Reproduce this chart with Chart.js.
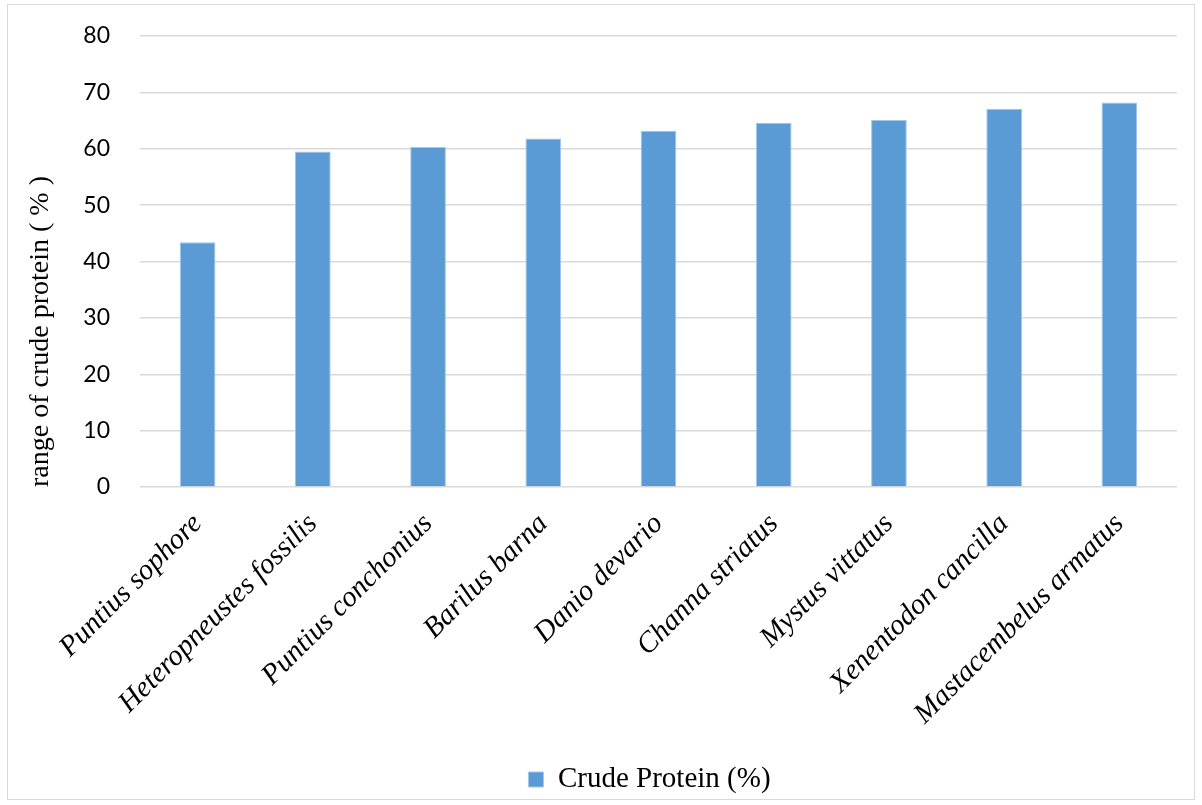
<!DOCTYPE html>
<html>
<head>
<meta charset="utf-8">
<title>Crude protein by species</title>
<script src="https://cdn.jsdelivr.net/npm/chart.js@4"></script>
<style>
  html, body { margin: 0; padding: 0; background: #fff; }
  #wrap { position: relative; width: 1202px; height: 805px; }
  #frame {
    position: absolute; left: 7px; top: 4px; width: 1188px; height: 796px;
    border: 1px solid #d9d9d9; box-sizing: border-box; pointer-events: none;
  }
</style>
</head>
<body>
<div id="wrap">
  <canvas id="graph" width="1202" height="805"></canvas>
  <div id="frame"></div>
</div>
<script>
// Species on the x axis
const species = [
  'Puntius sophore',
  'Heteropneustes fossilis',
  'Puntius conchonius',
  'Barilus barna',
  'Danio devario',
  'Channa striatus',
  'Mystus vittatus',
  'Xenentodon cancilla',
  'Mastacembelus armatus'
];

// Crude protein content (%)
const crudeProtein = [43.4, 59.5, 60.3, 61.8, 63.2, 64.6, 65.1, 67.1, 68.2];

// y axis range
const yMin = 0;
const yMax = 80;
const yStep = 10;

const data = {
  labels: species,
  datasets: [
    {
      label: 'Crude Protein (%)',
      data: crudeProtein,
      backgroundColor: '#5b9bd5',
      borderColor: '#a3c6ea',
      borderWidth: 1,
      borderSkipped: 'bottom',
      barPercentage: 0.31,
      categoryPercentage: 1.0
    }
  ]
};

// Center the legend under the plot area instead of the whole canvas
const legendOverPlot = {
  id: 'legendOverPlot',
  afterLayout(chart) {
    const lg = chart.legend;
    if (!lg) return;
    lg.left = chart.chartArea.left;
    lg.right = chart.chartArea.right - 18;
    lg.width = lg.right - lg.left;
    lg.adjustHitBoxes();
  }
};

const config = {
  type: 'bar',
  data: data,
  plugins: [legendOverPlot],
  options: {
    responsive: false,
    animation: false,
    layout: {
      padding: { left: 8, right: 25, top: 36, bottom: 1 }
    },
    plugins: {
      legend: {
        display: true,
        position: 'bottom',
        labels: {
          color: '#000',
          boxWidth: 15,
          boxHeight: 15,
          padding: 10,
          font: { family: '"Liberation Serif", "Times New Roman", serif', size: 29 }
        }
      },
      tooltip: { enabled: false }
    },
    scales: {
      x: {
        grid: { display: false },
        border: { display: false },
        ticks: {
          color: '#000',
          minRotation: 45,
          maxRotation: 45,
          padding: 12,
          autoSkip: false,
          font: { family: '"Liberation Serif", "Times New Roman", serif', size: 29, style: 'italic' }
        },
        afterFit: (scale) => { scale.height = 268; }
      },
      y: {
        min: yMin,
        max: yMax,
        grid: { color: '#d9d9d9', lineWidth: 1.5, drawTicks: false },
        border: { display: false },
        ticks: {
          stepSize: yStep,
          color: '#000',
          padding: 30,
          font: { family: 'Lato, "Open Sans", sans-serif', size: 23 }
        },
        title: {
          display: true,
          text: 'range of crude protein ( % )',
          align: 'start',
          color: '#000',
          padding: { top: 16, bottom: 0 },
          font: { family: '"Liberation Serif", "Times New Roman", serif', size: 28 }
        },
        afterFit: (scale) => {
          scale.width = 132;
          // tick padding should not push the plot top down
          scale.paddingTop = 12;
          scale.paddingBottom = 12;
        }
      }
    }
  }
};

const myChart = new Chart(document.getElementById('graph').getContext('2d'), config);
</script>
</body>
</html>
